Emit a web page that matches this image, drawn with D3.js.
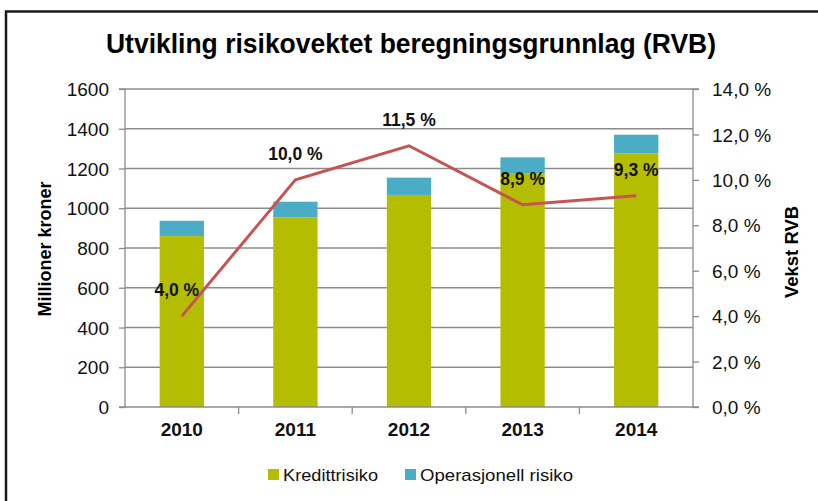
<!DOCTYPE html>
<html>
<head>
<meta charset="utf-8">
<script src="https://cdn.jsdelivr.net/npm/d3@7"></script>
<style>
  body { margin: 0; background: #fff; }
  svg { display: block; font-family: "Liberation Sans", Arial, sans-serif; }
</style>
</head>
<body>
<div id="graf"></div>
<script>
// Datos
aar = ['2010', '2011', '2012', '2013', '2014']
kreditt = [860, 954, 1067, 1177, 1276]
operasjonell = [77, 79, 87, 79, 94]
vekst = [4.0, 10.0, 11.5, 8.9, 9.3]
vekstTekst = ['4,0 %', '10,0 %', '11,5 %', '8,9 %', '9,3 %']
venstreTicks = [0, 200, 400, 600, 800, 1000, 1200, 1400, 1600]
hoyreTicks = [0, 2, 4, 6, 8, 10, 12, 14]

ancho_total = 818
alto_total = 501
margins = {top: 89, left: 125, right: 125, bottom: 94}
ancho = ancho_total - margins.left - margins.right
alto = alto_total - margins.top - margins.bottom

svg = d3.select('#graf').append('svg')
        .attr('width', ancho_total)
        .attr('height', alto_total)

// ramme
svg.append('path')
   .attr('d', `M6,${alto_total + 5} V11.5 H${ancho_total + 5}`)
   .attr('fill', 'none')
   .attr('stroke', '#1a1a1a')
   .attr('stroke-width', 2.5)

svg.append('text')
   .attr('x', 411).attr('y', 53)
   .attr('text-anchor', 'middle')
   .attr('textLength', 610).attr('lengthAdjust', 'spacingAndGlyphs')
   .style('font-size', '27px').style('font-weight', 'bold')
   .text('Utvikling risikovektet beregningsgrunnlag (RVB)')

g = svg.append('g')
       .attr('transform', `translate(${margins.left}, ${margins.top})`)

// -- Escaladores --
x = d3.scaleBand().domain(aar).range([0, ancho])
y = d3.scaleLinear().domain([0, 1600]).range([alto, 0])
y2 = d3.scaleLinear().domain([0, 14]).range([alto, 0])
barW = x.bandwidth() * 0.39

// gridlines
g.selectAll('line.grid')
 .data(venstreTicks.slice(1))
 .enter().append('line')
 .attr('x1', 0).attr('x2', ancho)
 .attr('y1', d => y(d)).attr('y2', d => y(d))
 .attr('stroke', '#8c8c8c').attr('stroke-width', 1.3)

// barras
stacked = aar.map((a, i) => ({aar: a, k: kreditt[i], o: operasjonell[i]}))
g.selectAll('rect.k').data(stacked).enter().append('rect')
 .attr('x', d => x(d.aar) + x.bandwidth() / 2 - barW / 2)
 .attr('width', barW)
 .attr('y', d => y(d.k))
 .attr('height', d => alto - y(d.k))
 .attr('fill', '#b5bd00')
g.selectAll('rect.o').data(stacked).enter().append('rect')
 .attr('x', d => x(d.aar) + x.bandwidth() / 2 - barW / 2)
 .attr('width', barW)
 .attr('y', d => y(d.k + d.o))
 .attr('height', d => y(d.k) - y(d.k + d.o))
 .attr('fill', '#4bacc6')

// ejes
axisColor = '#8c8c8c'
yAx = g.append('g').call(d3.axisLeft(y).tickValues(venstreTicks).tickSize(6).tickFormat(d3.format('d')))
y2Ax = g.append('g').attr('transform', `translate(${ancho},0)`)
        .call(d3.axisRight(y2).tickValues(hoyreTicks).tickSize(6).tickFormat(d => d3.format('.1f')(d).replace('.', ',') + ' %'))
xAx = g.append('g').attr('transform', `translate(0,${alto})`)
       .call(d3.axisBottom(x).tickSize(0))
xTicks = g.append('g').selectAll('line').data(aar.slice(1)).enter().append('line')
          .attr('x1', d => x(d)).attr('x2', d => x(d))
          .attr('y1', alto).attr('y2', alto + 7)
          .attr('stroke', axisColor).attr('stroke-width', 1.3)

;[yAx, y2Ax, xAx].forEach(a => {
  a.selectAll('path, line').attr('stroke', axisColor).attr('stroke-width', 1.3)
  a.selectAll('text').attr('fill', '#111').style('font-size', '19px')
})
yAx.selectAll('path').attr('d', `M-6,${alto}H0V0H-6`)
y2Ax.selectAll('path').attr('d', `M6,${alto}H0V0H6`)
yAx.selectAll('text').attr('x', -16).attr('dy', '0.35em')
y2Ax.selectAll('text').attr('x', 19).attr('dy', '0.35em')
xAx.selectAll('text').attr('y', 16).style('font-weight', 'bold')
xAx.select('path').attr('d', `M0,0H${ancho}`)

// linea
linea = d3.line().x((d, i) => x(aar[i]) + x.bandwidth() / 2).y(d => y2(d))
g.append('path').datum(vekst)
 .attr('d', linea)
 .attr('fill', 'none')
 .attr('stroke', '#c65452')
 .attr('stroke-width', 3)

g.selectAll('text.lbl').data(vekst).enter().append('text')
 .attr('x', (d, i) => x(aar[i]) + x.bandwidth() / 2 - (i == 0 ? 5 : 0))
 .attr('y', d => y2(d) - 20)
 .attr('text-anchor', 'middle')
 .style('font-size', '17.5px').style('font-weight', 'bold')
 .attr('fill', '#111')
 .text((d, i) => vekstTekst[i])

// titulos de ejes
svg.append('text')
   .attr('transform', 'translate(51,249) rotate(-90)')
   .attr('text-anchor', 'middle')
   .style('font-size', '18px').style('font-weight', 'bold')
   .text('Millioner kroner')
svg.append('text')
   .attr('transform', 'translate(798,252) rotate(-90)')
   .attr('text-anchor', 'middle')
   .style('font-size', '18.5px').style('font-weight', 'bold')
   .text('Vekst RVB')

// leyenda
legend = [{navn: 'Kredittrisiko', farge: '#b5bd00', x: 268, len: 95}, {navn: 'Operasjonell risiko', farge: '#4bacc6', x: 405, len: 153}]
lg = svg.selectAll('g.leg').data(legend).enter().append('g')
        .attr('transform', d => `translate(${d.x},469)`)
lg.append('rect').attr('width', 11).attr('height', 11).attr('fill', d => d.farge)
lg.append('text').attr('x', 15).attr('y', 11.5)
  .attr('textLength', d => d.len).attr('lengthAdjust', 'spacingAndGlyphs')
  .style('font-size', '17px').attr('fill', '#111')
  .text(d => d.navn)
</script>
</body>
</html>
